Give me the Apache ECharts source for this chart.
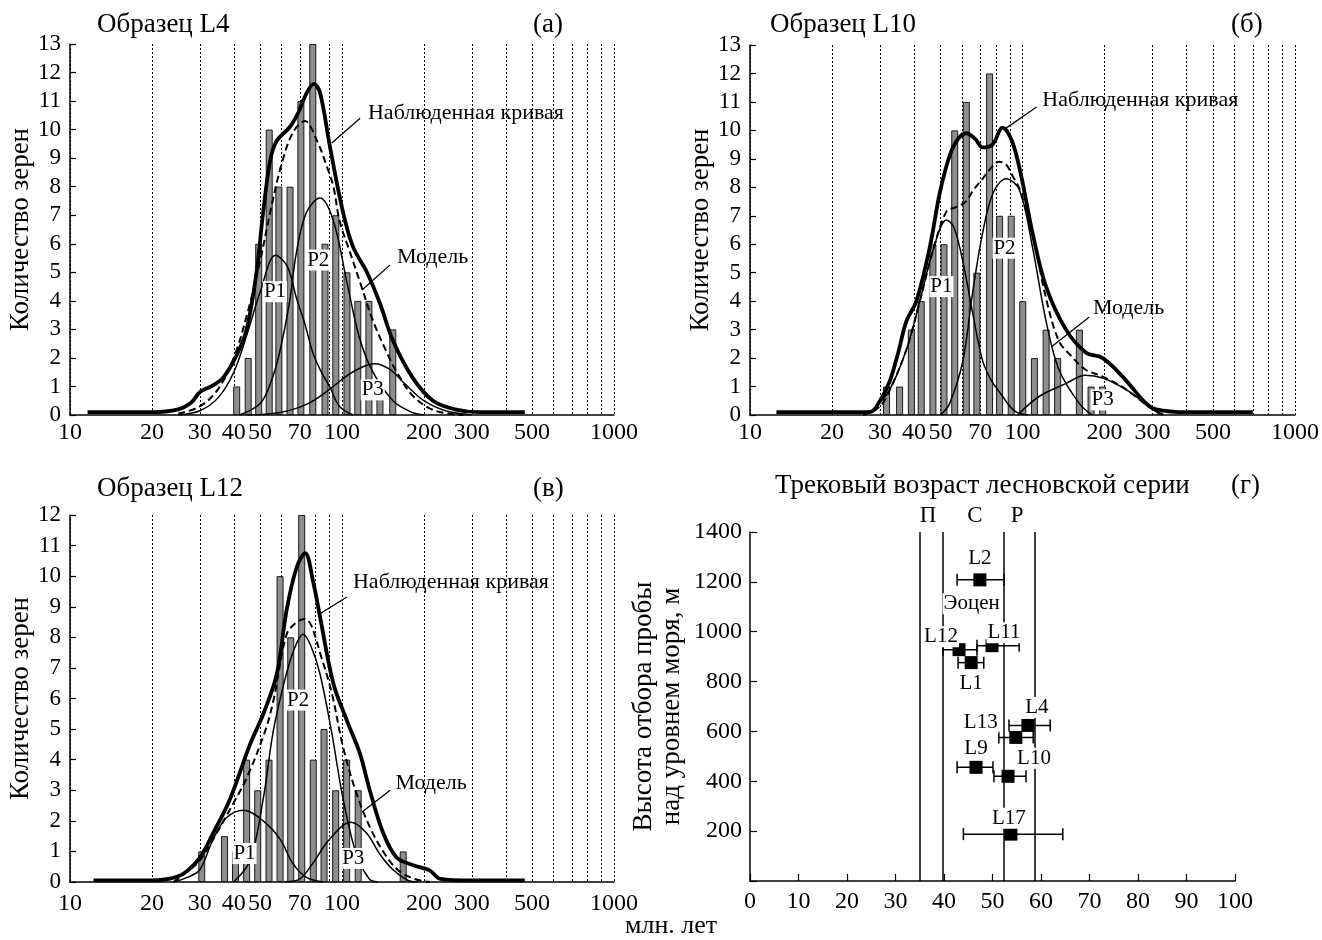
<!DOCTYPE html>
<html><head><meta charset="utf-8">
<script src="https://cdn.jsdelivr.net/npm/echarts@6/dist/echarts.min.js"></script>
<style>html,body{margin:0;padding:0;background:#fff}#c{width:1322px;height:940px}</style>
</head><body><div id="c"></div>
<script>
// ---------- DATA ----------
const tickAges = [10, 20, 30, 40, 50, 70, 100, 200, 300, 500, 1000];
const gridAges = [10, 20, 30, 40, 50, 60, 70, 80, 90, 100, 200, 300, 400, 500, 600, 700, 800, 900, 1000];

// Panel (а) Образец L4
const barAgesA = [41.0, 45.2, 49.4, 54.0, 58.6, 64.4, 70.6, 78.1, 86.6, 94.9, 104.3, 114.3, 125.6, 137.9, 153.7];
const barCountsA = [1, 2, 6, 10, 8, 8, 11, 13, 6, 7, 5, 4, 4, 1, 3];
const observedA = [[11.6,0.1],[20,0.1],[25,0.2],[28,0.45],[30,0.8],[33,1.0],[36.5,1.3],[41,2.1],[44.6,3.0],[48.5,5.0],[51.3,7.1],[54.4,8.9],[57.5,9.6],[64.4,10.1],[69.1,10.6],[73,11.15],[78.7,11.6],[83,11.3],[90.3,9.4],[100.9,7.1],[109.7,5.9],[123.5,5.0],[138,3.9],[154,2.6],[182,1.3],[216,0.5],[260,0.2],[320,0.1],[470,0.1]];
const modelA = [[25,0.05],[30,0.3],[35,0.9],[40,2.0],[45,3.6],[50,5.4],[55,7.3],[60,8.8],[66,9.9],[73,10.3],[81,9.6],[88,8.7],[93,8.0],[98,6.8],[107,5.7],[117,4.6],[130,3.3],[146,2.2],[159,1.5],[183,0.65],[220,0.15],[280,0]];
const p1A = [[25,0],[30,0.15],[35,0.6],[40,1.5],[45,2.9],[50,4.3],[57,5.6],[63,5.2],[68,4.1],[73,3.2],[78,2.2],[84,1.5],[90,1.0],[98,0.3],[110,0]];
const p2A = [[42,0],[50,0.4],[55,1.2],[59,2.2],[64,3.9],[68,5.7],[74,7.1],[83,7.6],[93,6.8],[104,4.7],[116,2.7],[130,1.5],[154,0.5],[180,0.1],[200,0]];
const p3A = [[45,0],[60,0.1],[75,0.4],[90,0.9],[105,1.4],[120,1.7],[132,1.8],[150,1.6],[170,1.1],[200,0.5],[240,0.15],[300,0]];

// Panel (б) Образец L10
const barAgesB = [31.7, 35.4, 39.1, 42.5, 46.9, 51.5, 56.4, 62.2, 68.0, 75.7, 82.4, 90.9, 100.2, 110.6, 122.1, 134.6, 161.7, 178.5, 196.9];
const barCountsB = [1, 1, 3, 4, 6, 6, 10, 11, 5, 12, 7, 7, 4, 2, 3, 2, 3, 1, 1];
const observedB = [[12.5,0.1],[20,0.1],[27.5,0.1],[30,0.5],[32.6,1.2],[35,2.2],[37.5,3.3],[40.8,4.0],[45.7,5.9],[49.7,7.8],[54,9.1],[58,9.7],[62.2,9.9],[67,9.7],[71.4,9.4],[77.6,9.5],[84.5,10.1],[91.7,9.6],[98.9,8.4],[108.8,6.4],[122.1,4.5],[144.4,3.0],[170.7,2.2],[196.9,2.0],[233,1.35],[284.5,0.4],[309,0.2],[400,0.1],[700,0.1]];
const modelB = [[26,0],[30,0.3],[33,1.0],[37.5,2.3],[42,4.0],[47,5.8],[52.6,7.15],[57,7.3],[62,7.5],[66,7.9],[71.4,8.3],[77,8.7],[82,8.9],[87,8.8],[92,8.4],[98,7.9],[108.8,6.4],[122,4.1],[136,2.6],[150,2.1],[170,1.6],[197,1.35],[240,0.9],[290,0.3],[330,0]];
const p1B = [[26,0],[28.2,0.17],[32.6,0.9],[37.5,2.3],[42,4.0],[47,5.8],[52.6,6.85],[56,6.6],[60.4,5.4],[65.6,3.6],[71.4,1.9],[77,1.2],[82.4,0.8],[90,0.3],[95,0.1],[105,0]];
const p2B = [[50,0],[54,0.4],[60.4,1.9],[65.6,4.3],[71.4,6.4],[78,7.8],[87,8.3],[97.5,7.9],[108.8,5.9],[122,3.3],[136,1.6],[161.7,0.4],[180,0]];
const p3B = [[96,0],[115,0.65],[144,1.1],[170,1.4],[197,1.3],[239,0.9],[292,0.3],[320,0]];

// Panel (в) Образец L12
const barAgesC = [30.5, 37.0, 40.6, 44.6, 49.0, 53.9, 59.2, 64.8, 71.1, 78.4, 85.9, 94.8, 104.0, 114.7, 167.9];
const barCountsC = [1, 1.5, 1, 4, 3, 4, 10, 8, 12, 4, 5, 3, 4, 3, 1];
const observedC = [[12.2,0.05],[20,0.05],[23,0.1],[26.1,0.27],[30,0.8],[33.6,1.6],[38.7,2.7],[45.9,4.5],[51.4,5.5],[57.6,6.8],[62.6,8.9],[68.2,10.3],[73.2,10.75],[78.4,9.8],[82.9,8.7],[92.9,6.5],[104,5.3],[116.4,4.2],[126.5,3.0],[141.7,1.6],[158.8,0.8],[182.9,0.55],[210,0.38],[230,0.1],[300,0.05],[470,0.05]];
const modelC = [[24,0],[26.6,0.3],[30,0.7],[34.6,1.6],[40,2.6],[44.6,3.4],[52,4.9],[56,5.95],[62.6,8.1],[68.2,8.5],[73,8.6],[77,8.4],[83,7.5],[91.6,6.2],[101,4.4],[113,2.9],[126.5,1.8],[141.7,1.0],[160,0.4],[185,0.1],[210,0]];
const p1C = [[24,0],[27,0.15],[30,0.4],[33.6,1.4],[37.6,2.1],[43.4,2.35],[51.3,2.0],[59.2,1.4],[66,0.6],[74,0.15],[85,0]];
const p2C = [[40,0],[45.9,0.7],[51.3,2.7],[55.8,4.9],[60.8,6.4],[66,7.5],[72,8.1],[77,7.7],[83,6.8],[91.6,4.9],[101,2.7],[113,0.9],[126,0.1],[135,0]];
const p3C = [[62,0],[70,0.1],[78,0.6],[90,1.4],[108,1.95],[123,1.6],[138,0.9],[154,0.4],[175,0.05],[190,0]];

// Panel (г) Трековый возраст
const samples = ['L2', 'L12', 'L11', 'L1', 'L4', 'L13', 'L9', 'L10', 'L17'];
const sampleAges = [47.4, 43.1, 49.9, 45.6, 57.3, 54.8, 46.6, 53.2, 53.8];
const sampleHeights = [1208, 928, 944, 876, 624, 576, 456, 420, 188];
const ageLow = [42.7, 39.8, 46.8, 42.9, 53.4, 51.3, 42.7, 50.3, 44.0];
const ageHigh = [52.4, 46.8, 55.5, 48.2, 61.9, 58.4, 50.1, 56.9, 64.5];
const stageBounds = [34.9, 39.7, 52.3, 58.7];
const stageNames = ['П', 'С', 'Р'];
const stageLabelAges = [36.7, 46.4, 55.1];

// ---------- BUILD ----------
const LG = Math.log10;
const FONT = 'Liberation Serif, DejaVu Serif, serif';
const txt = (size) => ({ fontFamily: FONT, fontSize: size, color: '#000', fontWeight: 'normal' });
const toLog = (arr) => arr.map(p => [LG(p[0]), p[1]]);

// per-panel annotation anchors (text positions and leader lines)
const annot = [
  { obs: [122.5, 10.58], obsLead: [[116.6,10.4],[91.7,9.53]], mod: [156.6, 5.54], modLead: [[150.3,5.26],[118.5,4.38]],
    P: [[56.7,4.32],[81.8,5.43],[129.7,0.88]] },
  { obs: [116.3, 11.07], obsLead: [[112.6,10.82],[87.1,10.08]], mod: [178.3, 3.76], modLead: [[175.9,3.44],[127.5,2.39]],
    P: [[50.4,4.51],[85.9,5.86],[196.9,0.53]] },
  { obs: [107.9, 9.81], obsLead: [[104.2,9.32],[81.6,8.73]], mod: [154.6, 3.23], modLead: [[150.3,3.0],[118.5,2.29]],
    P: [[43.8,0.93],[69.0,5.95],[110,0.77]] }
];

const panels = [
  { bars: [barAgesA, barCountsA], obs: observedA, mod: modelA, P: [p1A, p2A, p3A], ymax: 13, xMargin: 6 },
  { bars: [barAgesB, barCountsB], obs: observedB, mod: modelB, P: [p1B, p2B, p3B], ymax: 13, xMargin: 6 },
  { bars: [barAgesC, barCountsC], obs: observedC, mod: modelC, P: [p1C, p2C, p3C], ymax: 12, xMargin: 10 }
];

const grids = [
  { left: 70, top: 44, width: 544, height: 371 },
  { left: 750, top: 45, width: 546, height: 370 },
  { left: 70, top: 515, width: 544, height: 367 },
  { left: 750, top: 532, width: 485, height: 349 }
];

const xAxes = [], yAxes = [], series = [];

panels.forEach((pn, i) => {
  xAxes.push({
    type: 'value', gridIndex: i, min: 1, max: 3,
    axisLine: { show: true, onZero: false, lineStyle: { color: '#000', width: 1.5 } },
    axisTick: { show: false, customValues: gridAges.map(LG) },
    axisLabel: { customValues: tickAges.map(LG), formatter: v => String(Math.round(Math.pow(10, v))), margin: pn.xMargin, ...txt(24) },
    splitLine: { show: true, lineStyle: { color: '#000', type: [2, 2], width: 1 } }
  });
  yAxes.push({
    type: 'value', gridIndex: i, min: 0, max: pn.ymax, interval: 1,
    axisLine: { show: true, lineStyle: { color: '#000', width: 1.5 } },
    axisTick: { show: true, inside: true, length: 6, lineStyle: { color: '#000', width: 1.2 } },
    axisLabel: { margin: 9, ...txt(23) },
    splitLine: { show: false },
    name: 'Количество зерен', nameLocation: 'middle', nameGap: 34, nameTextStyle: txt(27)
  });
  const ax = { xAxisIndex: i, yAxisIndex: i };
  series.push({
    type: 'bar', ...ax, barWidth: 7, z: 2,
    data: pn.bars[0].map((a, k) => [LG(a), pn.bars[1][k]]),
    itemStyle: { color: '#8e8e8e', borderColor: '#1a1a1a', borderWidth: 1 }
  });
  pn.P.forEach(p => series.push({
    type: 'line', ...ax, smooth: 0.35, showSymbol: false, z: 3, data: toLog(p),
    lineStyle: { color: '#000', width: 1.5 }
  }));
  series.push({
    type: 'line', ...ax, smooth: 0.35, showSymbol: false, z: 4, data: toLog(pn.mod),
    lineStyle: { color: '#000', width: 2, type: [7, 4] }
  });
  series.push({
    type: 'line', ...ax, smooth: 0.35, showSymbol: false, z: 5, data: toLog(pn.obs),
    lineStyle: { color: '#000', width: 3.8 }
  });
  const an = annot[i];
  [an.obsLead, an.modLead].forEach(ld => series.push({
    type: 'line', ...ax, showSymbol: false, z: 6, data: toLog(ld),
    lineStyle: { color: '#000', width: 1.3 }
  }));
  series.push({
    type: 'scatter', ...ax, symbolSize: 0, z: 8, itemStyle: { opacity: 1 },
    data: [
      { value: [LG(an.obs[0]), an.obs[1]], name: 'Наблюденная кривая' },
      { value: [LG(an.mod[0]), an.mod[1]], name: 'Модель' }
    ],
    label: { show: true, position: 'right', distance: 2, formatter: p => p.name, ...txt(22) }
  });
  series.push({
    type: 'scatter', ...ax, symbolSize: 0, z: 8, itemStyle: { opacity: 1 },
    data: an.P.map((p, k) => ({ value: [LG(p[0]), p[1]], name: 'P' + (k + 1) })),
    label: { show: true, position: 'inside', formatter: p => p.name, backgroundColor: '#fff', padding: [0, 1, 0, 1], ...txt(21) }
  });
});

// Panel (г)
xAxes.push({
  type: 'value', gridIndex: 3, min: 0, max: 100, interval: 10,
  axisLine: { show: true, onZero: false, lineStyle: { color: '#000', width: 1.5 } },
  axisTick: { show: true, inside: true, length: 7, lineStyle: { color: '#000', width: 1.2 } },
  axisLabel: { margin: 9, ...txt(24) },
  splitLine: { show: false }
});
yAxes.push({
  type: 'value', gridIndex: 3, min: 0, max: 1400, interval: 200,
  axisLine: { show: true, lineStyle: { color: '#000', width: 1.5 } },
  axisTick: { show: true, inside: true, length: 7, lineStyle: { color: '#000', width: 1.2 } },
  axisLabel: { margin: 8, formatter: v => (v === 0 ? '' : String(v)), ...txt(24) },
  splitLine: { show: false },
  name: 'Высота отбора пробы\nнад уровнем моря, м', nameLocation: 'middle', nameGap: 64,
  nameTextStyle: { ...txt(27), lineHeight: 28 }
});
const axD = { xAxisIndex: 3, yAxisIndex: 3 };
series.push({
  type: 'line', ...axD, data: [], z: 1, silent: true,
  markLine: {
    symbol: ['none', 'none'], silent: true, label: { show: false },
    lineStyle: { color: '#000', width: 1.5, type: 'solid' },
    data: stageBounds.map(b => ({ xAxis: b }))
  }
});
series.push({
  type: 'scatter', ...axD, symbolSize: 0, z: 3, itemStyle: { opacity: 1 },
  data: stageNames.map((s, k) => ({ value: [stageLabelAges[k], 1400], name: s })),
  label: { show: true, position: 'top', distance: 5, formatter: p => p.name, ...txt(23) }
});
series.push({
  type: 'custom', ...axD, z: 5,
  data: samples.map((s, k) => [sampleAges[k], sampleHeights[k], ageLow[k], ageHigh[k]]),
  renderItem: (params, api) => {
    const h = api.value(1);
    const c = api.coord([api.value(0), h]);
    const lo = api.coord([api.value(2), h]);
    const hi = api.coord([api.value(3), h]);
    const cap = 6, s = 13;
    const st = { stroke: '#000', lineWidth: 1.5 };
    return {
      type: 'group', children: [
        { type: 'line', shape: { x1: lo[0], y1: lo[1], x2: hi[0], y2: hi[1] }, style: st },
        { type: 'line', shape: { x1: lo[0], y1: lo[1] - cap, x2: lo[0], y2: lo[1] + cap }, style: st },
        { type: 'line', shape: { x1: hi[0], y1: hi[1] - cap, x2: hi[0], y2: hi[1] + cap }, style: st },
        { type: 'rect', shape: { x: c[0] - s / 2, y: c[1] - s / 2, width: s, height: s }, style: { fill: '#000' } }
      ]
    };
  }
});
// label offsets in pixels for sample names (layout only)
const sampleLabelOffsets = [[0,-21],[-18,-13],[12,-13],[0,21],[9,-18],[-35,-15],[0,-19],[26,-18],[-2,-16]];
series.push({
  type: 'scatter', ...axD, symbolSize: 0, z: 6, itemStyle: { opacity: 1 },
  data: samples.map((s, k) => ({
    value: [sampleAges[k], sampleHeights[k]], name: s,
    label: { offset: sampleLabelOffsets[k] }
  })).concat([{ value: [45.7, 1112], name: 'Эоцен', label: { offset: [0, 0] } }]),
  label: { show: true, position: 'inside', formatter: p => p.name, backgroundColor: '#fff', padding: [0, 1, 0, 1], ...txt(21) }
});

const titles = [
  { text: 'Образец L4', left: 97, top: 11 },
  { text: '(а)', left: 533, top: 11 },
  { text: 'Образец L10', left: 770, top: 11 },
  { text: '(б)', left: 1231, top: 11 },
  { text: 'Образец L12', left: 97, top: 475 },
  { text: '(в)', left: 533, top: 475 },
  { text: 'Трековый возраст лесновской серии', left: 775, top: 472 },
  { text: '(г)', left: 1231, top: 472 },
  { text: 'млн. лет', left: 625, top: 913, size: 26 }
].map(t => ({ text: t.text, left: t.left, top: t.top, padding: 0, textStyle: txt(t.size || 27) }));

const chart = echarts.init(document.getElementById('c'), null, { renderer: 'canvas' });
chart.setOption({
  animation: false,
  backgroundColor: '#fff',
  title: titles,
  grid: grids,
  xAxis: xAxes,
  yAxis: yAxes,
  series: series
});
</script></body></html>
